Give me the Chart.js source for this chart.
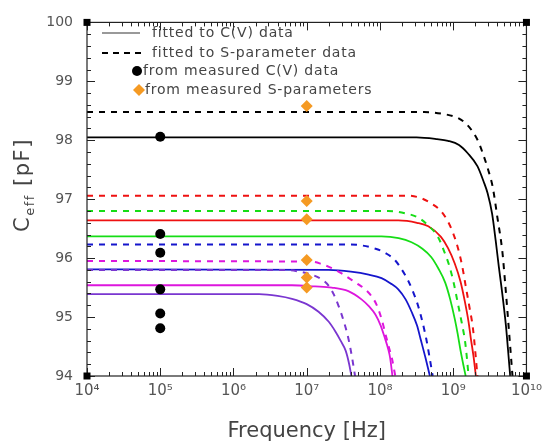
<!DOCTYPE html>
<html><head><meta charset="utf-8">
<script src="https://cdn.jsdelivr.net/npm/chart.js@4/dist/chart.umd.min.js"></script>
<style>html,body{margin:0;padding:0;background:#fff}#wrap{width:548px;height:445px}</style>
</head><body><div id="wrap"><canvas id="c" width="548" height="445"></canvas></div>
<script>
// ---- data ----
const xTickVals = [1e4, 1e5, 1e6, 1e7, 1e8, 1e9, 1e10];
const yTickVals = [94, 95, 96, 97, 98, 99, 100];

const cvFreq = 1e5;
const cvPoints = [98.06, 96.41, 96.09, 95.47, 95.06, 94.81];
const spFreq = 1e7;
const spPoints = [98.58, 96.97, 96.66, 95.97, 95.67, 95.50];

const blackSolidF = [1e4, 3.16e8, 6e8, 8.5e8, 1.2e9, 1.58e9, 2.14e9, 2.6e9, 2.95e9, 3.4e9, 3.8e9, 4.2e9, 4.57e9, 5.25e9, 5.6e9, 6.0e9];
const blackSolidC = [98.05, 98.05, 98.02, 97.99, 97.92, 97.78, 97.56, 97.30, 97.10, 96.75, 96.30, 95.85, 95.50, 94.85, 94.45, 94.0];
const blackDashF = [1e4, 4e8, 7e8, 1.15e9, 1.5e9, 1.86e9, 2.2e9, 2.5e9, 3.0e9, 3.47e9, 4.0e9, 4.7e9, 5.1e9, 5.5e9, 6.0e9, 6.45e9];
const blackDashC = [98.48, 98.48, 98.45, 98.38, 98.28, 98.14, 97.98, 97.80, 97.50, 97.20, 96.70, 96.10, 95.60, 95.10, 94.50, 94.0];

const redSolidF = [1e4, 1.78e8, 3.2e8, 4.57e8, 6.8e8, 8.5e8, 1.05e9, 1.26e9, 1.45e9, 1.62e9, 1.74e9, 1.9e9, 2.04e9];
const redSolidC = [96.64, 96.64, 96.60, 96.54, 96.36, 96.17, 95.91, 95.60, 95.25, 94.92, 94.64, 94.32, 94.0];
const redDashF = [1e4, 2.4e8, 3.6e8, 5.0e8, 6.8e8, 8.5e8, 1.0e9, 1.15e9, 1.32e9, 1.48e9, 1.66e9, 1.86e9, 2.0e9, 2.14e9];
const redDashC = [97.06, 97.06, 97.02, 96.93, 96.80, 96.62, 96.42, 96.19, 95.88, 95.53, 95.18, 94.81, 94.42, 94.0];

const greenSolidF = [1e4, 1.05e8, 1.8e8, 2.7e8, 3.8e8, 5.0e8, 6.3e8, 7.8e8, 9.1e8, 1.05e9, 1.15e9, 1.26e9, 1.37e9, 1.48e9];
const greenSolidC = [96.37, 96.37, 96.34, 96.27, 96.16, 96.02, 95.82, 95.58, 95.30, 94.97, 94.72, 94.43, 94.20, 94.0];
const greenDashF = [1e4, 1.29e8, 2.2e8, 3.3e8, 4.6e8, 6.2e8, 7.5e8, 8.9e8, 1.02e9, 1.15e9, 1.3e9, 1.45e9, 1.54e9, 1.62e9];
const greenDashC = [96.80, 96.80, 96.76, 96.69, 96.55, 96.36, 96.12, 95.86, 95.57, 95.25, 94.92, 94.59, 94.30, 94.0];

const blueSolidF = [1e4, 2e7, 4e7, 7e7, 1.05e8, 1.4e8, 1.78e8, 2.24e8, 2.7e8, 3.2e8, 3.6e8, 4.2e8, 4.8e8];
const blueSolidC = [95.81, 95.80, 95.77, 95.72, 95.66, 95.57, 95.47, 95.30, 95.09, 94.86, 94.62, 94.30, 94.0];
const blueDashF = [1e4, 4e7, 8.7e7, 1.25e8, 1.62e8, 2.0e8, 2.4e8, 2.85e8, 3.3e8, 3.8e8, 4.27e8, 4.75e8, 5.25e8];
const blueDashC = [96.23, 96.23, 96.16, 96.07, 95.96, 95.80, 95.63, 95.42, 95.20, 94.92, 94.64, 94.32, 94.0];

const magentaSolidF = [1e4, 6.3e6, 1.3e7, 2.2e7, 3.7e7, 5.6e7, 7.1e7, 8.7e7, 1.02e8, 1.17e8, 1.3e8, 1.38e8, 1.48e8];
const magentaSolidC = [95.54, 95.54, 95.52, 95.50, 95.44, 95.30, 95.18, 95.04, 94.86, 94.64, 94.45, 94.30, 94.0];
const magentaDashF = [1e4, 1.17e7, 1.6e7, 2.2e7, 3.0e7, 4.0e7, 5.0e7, 6.3e7, 7.6e7, 8.9e7, 1.05e8, 1.23e8, 1.35e8, 1.45e8, 1.62e8];
const magentaDashC = [95.95, 95.94, 95.90, 95.83, 95.74, 95.64, 95.56, 95.47, 95.36, 95.22, 94.97, 94.64, 94.45, 94.31, 94.0];

const purpleSolidF = [1e4, 2.24e6, 4e6, 6.3e6, 1.0e7, 1.45e7, 2.0e7, 2.45e7, 2.9e7, 3.4e7, 3.8e7, 4.07e7];
const purpleSolidC = [95.39, 95.39, 95.36, 95.31, 95.22, 95.09, 94.92, 94.76, 94.60, 94.43, 94.20, 94.0];
const purpleDashF = [1e4, 5.1e6, 8e6, 1.17e7, 1.6e7, 2.0e7, 2.35e7, 2.7e7, 3.2e7, 3.7e7, 4.15e7, 4.57e7];
const purpleDashC = [95.80, 95.80, 95.77, 95.72, 95.64, 95.53, 95.38, 95.20, 94.93, 94.64, 94.32, 94.0];

const legendTexts = ['fitted to C(V) data', 'fitted to S-parameter data', 'from measured C(V) data', 'from measured S-parameters'];

// ---- build chart ----
const FONT = '"DejaVu Sans", sans-serif';
const pts = (F, C) => F.map((f, i) => ({x: f, y: C[i]}));
const line = (F, C, color, dashed) => ({
  data: pts(F, C), showLine: true, borderColor: color, backgroundColor: color,
  borderWidth: dashed ? 2 : 1.8, borderDash: dashed ? [6, 6] : [],
  pointRadius: 0, cubicInterpolationMode: 'monotone', fill: false, order: 2
});
const COL = {black: '#000000', red: '#ee1111', green: '#16dd16', blue: '#1515cc', magenta: '#dd16dd', purple: '#7a36d0', orange: '#f59a23'};

const datasets = [
  line(purpleSolidF, purpleSolidC, COL.purple, false),
  line(purpleDashF, purpleDashC, COL.purple, true),
  line(magentaSolidF, magentaSolidC, COL.magenta, false),
  line(magentaDashF, magentaDashC, COL.magenta, true),
  line(blueSolidF, blueSolidC, COL.blue, false),
  line(blueDashF, blueDashC, COL.blue, true),
  line(greenSolidF, greenSolidC, COL.green, false),
  line(greenDashF, greenDashC, COL.green, true),
  line(redSolidF, redSolidC, COL.red, false),
  line(redDashF, redDashC, COL.red, true),
  line(blackSolidF, blackSolidC, COL.black, false),
  line(blackDashF, blackDashC, COL.black, true),
  {data: cvPoints.map(v => ({x: cvFreq, y: v})), pointStyle: 'circle', pointRadius: 5,
   backgroundColor: '#000', borderColor: '#000', borderWidth: 0, showLine: false, order: 1},
  {data: spPoints.map(v => ({x: spFreq, y: v})), pointStyle: 'rectRot', pointRadius: 6,
   backgroundColor: COL.orange, borderColor: COL.orange, borderWidth: 0, showLine: false, order: 1}
];

const sup = {'0':'⁰','1':'¹','2':'²','3':'³','4':'⁴','5':'⁵','6':'⁶','7':'⁷','8':'⁸','9':'⁹'};

const framePlugin = {
  id: 'frame',
  afterDatasetsDraw(chart) {
    const {ctx, chartArea: a, scales: {x, y}} = chart;
    ctx.save();
    ctx.strokeStyle = '#222'; ctx.lineWidth = 1.2;
    ctx.strokeRect(a.left, a.top, a.right - a.left, a.bottom - a.top);
    ctx.beginPath();
    ctx.lineWidth = 1;
    for (let e = 4; e < 10; e++) for (let m = 1; m < 10; m++) {
      const px = Math.round(x.getPixelForValue(m * Math.pow(10, e))) + 0.5;
      const len = m === 1 ? 8 : 4;
      ctx.moveTo(px, a.bottom); ctx.lineTo(px, a.bottom - len);
      ctx.moveTo(px, a.top); ctx.lineTo(px, a.top + len);
    }
    for (let k = 0; k <= 30; k++) {
      const py = Math.round(y.getPixelForValue(94 + k * 0.2)) + 0.5;
      const len = k % 5 === 0 ? 8 : 4;
      ctx.moveTo(a.left, py); ctx.lineTo(a.left + len, py);
      ctx.moveTo(a.right, py); ctx.lineTo(a.right - len, py);
    }
    ctx.stroke();
    ctx.fillStyle = '#000';
    [[a.left, a.top], [a.right, a.top], [a.left, a.bottom], [a.right, a.bottom]].forEach(([cx, cy]) => ctx.fillRect(cx - 3.5, cy - 3.5, 7, 7));

    // legend
    ctx.font = '14px ' + FONT;
    ctx.letterSpacing = '0.8px';
    ctx.fillStyle = '#444';
    ctx.textBaseline = 'middle';
    ctx.textAlign = 'left';
    const ly = [33, 53, 71, 90];
    ctx.strokeStyle = '#999'; ctx.lineWidth = 2; ctx.setLineDash([]);
    ctx.beginPath(); ctx.moveTo(102, ly[0]); ctx.lineTo(140, ly[0]); ctx.stroke();
    ctx.strokeStyle = '#000'; ctx.setLineDash([6, 5]);
    ctx.beginPath(); ctx.moveTo(102, ly[1]); ctx.lineTo(145, ly[1]); ctx.stroke();
    ctx.setLineDash([]);
    ctx.fillStyle = '#000';
    ctx.beginPath(); ctx.arc(137, ly[2], 5, 0, Math.PI * 2); ctx.fill();
    ctx.fillStyle = COL.orange;
    ctx.beginPath(); ctx.moveTo(139, ly[3] - 6); ctx.lineTo(145, ly[3]); ctx.lineTo(139, ly[3] + 6); ctx.lineTo(133, ly[3]); ctx.closePath(); ctx.fill();
    ctx.fillStyle = '#444';
    ctx.fillText(legendTexts[0], 152, ly[0]);
    ctx.fillText(legendTexts[1], 152, ly[1]);
    ctx.fillText(legendTexts[2], 143, ly[2]);
    ctx.fillText(legendTexts[3], 145, ly[3]);

    // x title
    ctx.letterSpacing = '0px';
    ctx.font = '21px ' + FONT;
    ctx.textAlign = 'center';
    ctx.fillText('Frequency [Hz]', (a.left + a.right) / 2, 432);

    // y title C_eff [pF]
    ctx.translate(24, 185);
    ctx.rotate(-Math.PI / 2);
    ctx.textAlign = 'left';
    ctx.letterSpacing = '1.5px';
    const big = '21px ' + FONT, small = '13px ' + FONT;
    ctx.font = big; const wC = ctx.measureText('C').width;
    ctx.font = small; const wE = ctx.measureText('eff').width;
    ctx.font = big; const wP = ctx.measureText(' [pF]').width;
    let sx = -(wC + wE + wP) / 2;
    ctx.font = big; ctx.fillText('C', sx, 0); sx += wC;
    ctx.font = small; ctx.fillText('eff', sx, 7); sx += wE;
    ctx.font = big; ctx.fillText(' [pF]', sx, 0);
    ctx.restore();
  }
};

new Chart(document.getElementById('c'), {
  type: 'scatter',
  data: {datasets},
  options: {
    responsive: false, animation: false,
    layout: {padding: {top: 12, right: 19, left: 0, bottom: 0}},
    plugins: {legend: {display: false}, tooltip: {enabled: false}},
    scales: {
      x: {
        type: 'logarithmic', min: 1e4, max: 1e10, position: 'bottom',
        afterFit: s => { s.height = 69; },
        afterBuildTicks: s => { s.ticks = xTickVals.map(v => ({value: v})); },
        grid: {display: false, drawTicks: false}, border: {display: false},
        ticks: {
          autoSkip: false, maxRotation: 0, padding: 6, color: '#555',
          font: {family: FONT, size: 15},
          callback: v => '10' + String(Math.round(Math.log10(v))).split('').map(d => sup[d]).join('')
        }
      },
      y: {
        type: 'linear', min: 94, max: 100,
        afterFit: s => { s.width = 87; },
        afterBuildTicks: s => { s.ticks = yTickVals.map(v => ({value: v})); },
        grid: {display: false, drawTicks: false}, border: {display: false},
        ticks: {padding: 14, color: '#555', font: {family: FONT, size: 14}}
      }
    }
  },
  plugins: [framePlugin]
});
</script></body></html>
